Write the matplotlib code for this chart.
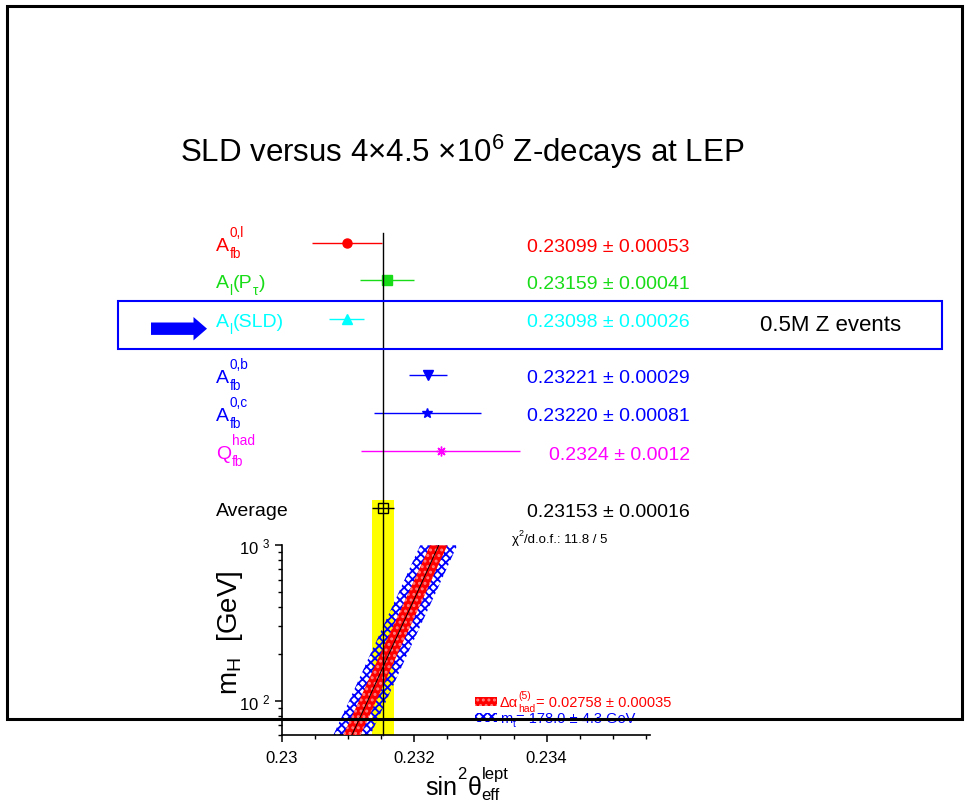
import matplotlib
matplotlib.use('Agg')
import matplotlib.pyplot as plt
import numpy as np
from matplotlib.patches import Rectangle, FancyArrow
from matplotlib.ticker import FixedLocator, MultipleLocator, LogLocator, NullFormatter, FuncFormatter

plt.rcParams['font.family'] = ['Liberation Sans', 'DejaVu Sans']
plt.rcParams['mathtext.fontset'] = 'custom'
plt.rcParams['mathtext.rm'] = 'Liberation Sans'
plt.rcParams['mathtext.it'] = 'Liberation Sans'
plt.rcParams['mathtext.bf'] = 'Liberation Sans:bold'
plt.rcParams['mathtext.sf'] = 'Liberation Sans'
plt.rcParams['mathtext.default'] = 'regular'
plt.rcParams['hatch.linewidth'] = 1.35

# ---------------- data ----------------
# labels as (text, kind) segments: '' normal, '^' superscript, '_' subscript
labels = [
    [('A', ''), ('0,l', '^'), ('fb', '_')],
    [('A', ''), ('l', '_'), ('(P', ''), ('τ', '_'), (')', '')],
    [('A', ''), ('l', '_'), ('(SLD)', '')],
    [('A', ''), ('0,b', '^'), ('fb', '_')],
    [('A', ''), ('0,c', '^'), ('fb', '_')],
    [('Q', ''), ('had', '^'), ('fb', '_')],
]
values = [0.23099, 0.23159, 0.23098, 0.23221, 0.23220, 0.2324]
errors = [0.00053, 0.00041, 0.00026, 0.00029, 0.00081, 0.0012]
decimals = [5, 5, 5, 5, 5, 4]
avg_value = 0.23153
avg_error = 0.00016
chi2 = 11.8
ndof = 5
mh_grid = [60, 100, 200, 500, 1000]
sw_center = [0.23106, 0.23130, 0.23162, 0.23205, 0.23237]
alpha_halfwidth = 0.00013
mt_halfwidth = 0.00028
delta_alpha, delta_alpha_err = 0.02758, 0.00035
mtop, mtop_err = 178.0, 4.3
xticks = [0.23, 0.232, 0.234]
title = 'SLD versus 4×4.5 ×10$^6$ Z-decays at LEP'
sld_note = '0.5M Z events'

# ---------------- layout / style ----------------
W, H = 969, 812
ax_left_px, ax_right_px = 281.7, 650.0
ax_top_px, ax_bot_px = 546.3, 736.0
xlim = (0.23, 0.23556)
ylim = (60, 1000)
row_pos = [244, 281.3, 320, 375.7, 414, 452.3]
avg_row = 509.3
colors = ['#ff0000', '#18dc18', '#00ffff', '#0000ff', '#0000ff', '#ff00ff']
markers = ['o', 's', '^', 'v', '*', (8, 2, 0)]
msizes = [6.5, 6.7, 7.0, 7.0, 7.5, 7.0]
label_x, value_x = 216, 690
fs_row = 14

fig = plt.figure(figsize=(W / 100, H / 100), dpi=100)
fig.patch.set_facecolor('white')
renderer = fig.canvas.get_renderer()

# ---------------- bottom mH plot ----------------
ax = fig.add_axes([ax_left_px / W, 1 - ax_bot_px / H,
                   (ax_right_px - ax_left_px) / W, (ax_bot_px - ax_top_px) / H])
ax.set_zorder(1)
ax.set_xlim(xlim)
ax.set_yscale('log')
ax.set_ylim(ylim)
ax.spines[['top', 'right']].set_visible(False)
for s in ('left', 'bottom'):
    ax.spines[s].set_linewidth(1.2)

ax.axvspan(avg_value - avg_error, avg_value + avg_error, color='#ffff00', lw=0, zorder=1)
mh = np.array(mh_grid, dtype=float)
sc = np.array(sw_center)
ax.fill_betweenx(mh, sc - mt_halfwidth, sc + mt_halfwidth, facecolor='none',
                 edgecolor='#0000ff', hatch='xxxx', linewidth=0, zorder=2)
ax.fill_betweenx(mh, sc - alpha_halfwidth, sc + alpha_halfwidth, facecolor='#ff0000',
                 edgecolor='#ff8080', hatch='...', linewidth=0, zorder=3)
ax.plot(sc, mh, color='black', lw=0.7, zorder=4)

ax.xaxis.set_major_locator(FixedLocator(xticks))
ax.xaxis.set_minor_locator(MultipleLocator(0.0005))
ax.xaxis.set_major_formatter(FuncFormatter(lambda v, p: f'{v:g}'))
ax.yaxis.set_major_locator(LogLocator(base=10, numticks=10))
ax.yaxis.set_minor_locator(LogLocator(base=10, subs=np.arange(2, 10), numticks=10))
ax.yaxis.set_major_formatter(FuncFormatter(lambda v, p: '10 $^{%d}$' % round(np.log10(v))))
ax.yaxis.set_minor_formatter(NullFormatter())
ax.tick_params(axis='both', which='major', direction='out', length=5, width=1.1,
               labelsize=12, pad=3)
ax.tick_params(axis='both', which='minor', direction='out', length=3, width=1.0)
ax.tick_params(axis='x', which='major', pad=6)

# ---------------- top measurement panel ----------------
axt = fig.add_axes([ax_left_px / W, 0, (ax_right_px - ax_left_px) / W, 1])
axt.set_zorder(2)
axt.set_xlim(xlim)
axt.set_ylim(H, 0)
axt.axis('off')
axt.fill_betweenx([avg_row - 8.6, ax_top_px + 4], avg_value - avg_error,
                  avg_value + avg_error, color='#ffff00', lw=0, zorder=1)
axt.plot([avg_value, avg_value], [234, ax_bot_px], color='black', lw=1.0, zorder=5)
for v, e, y, c, m, ms in zip(values, errors, row_pos, colors, markers, msizes):
    axt.errorbar(v, y, xerr=e, fmt='none', ecolor=c, elinewidth=1.0, capsize=0, zorder=3)
    axt.plot(v, y, marker=m, color=c, mfc=c, mec=c, ms=ms, mew=1.0, ls='none', zorder=4)
axt.errorbar(avg_value, avg_row, xerr=avg_error, fmt='none', ecolor='black',
             elinewidth=1.0, capsize=0, zorder=3)
axt.plot(avg_value, avg_row, marker='s', mfc='none', mec='black', ms=6.5, mew=1.0,
         ls='none', zorder=6)

# ---------------- overlay (texts, box, arrow, frame) ----------------
ov = fig.add_axes([0, 0, 1, 1])
ov.set_zorder(3)
ov.set_xlim(0, W)
ov.set_ylim(H, 0)
ov.axis('off')


def rich(x, yb, segs, color, fs, sfs, sup_dy, sub_dy):
    """Draw ROOT-like text with stacked super/subscripts; x, yb in pixels."""
    cur = x
    i = 0
    while i < len(segs):
        txt, kind = segs[i]
        if kind not in ('^', '_'):
            t = ov.text(cur, yb, txt, color=color, fontsize=fs, ha='left', va='baseline')
            cur += t.get_window_extent(renderer=renderer).width
            i += 1
        else:
            wmax = 0
            while i < len(segs) and segs[i][1] in ('^', '_'):
                txt, kind = segs[i]
                dy = -sup_dy if kind == '^' else sub_dy
                t = ov.text(cur + 0.5, yb + dy, txt, color=color, fontsize=sfs,
                            ha='left', va='baseline')
                wmax = max(wmax, t.get_window_extent(renderer=renderer).width)
                i += 1
            cur += wmax + 1
    return cur


ov.text(462, 162, title, fontsize=22.5, ha='center', va='baseline')
for lab, v, e, d, y, c in zip(labels, values, errors, decimals, row_pos, colors):
    rich(label_x, y + 7, lab, c, fs_row, 9.8, 14, 7)
    ov.text(value_x, y + 7.5, f'{v:.{d}f} ± {e:.{d}f}', color=c, fontsize=fs_row,
            ha='right', va='baseline')
ov.text(label_x, avg_row + 7, 'Average', color='black', fontsize=fs_row, ha='left', va='baseline')
ov.text(value_x, avg_row + 7.5, f'{avg_value:.5f} ± {avg_error:.5f}', color='black',
        fontsize=fs_row, ha='right', va='baseline')
rich(511.5, 542.7, [('χ', ''), ('2', '^'), (f'/d.o.f.: {chi2:g} / {ndof}', '')],
     'black', 9.5, 6.5, 6.5, 0)

ov.add_patch(Rectangle((118.5, 301.5), 824, 48.5, fill=False, ec='#0000ff', lw=1.5))
ov.add_patch(FancyArrow(151, 329.7, 56, 0, width=12.4, head_width=23.4, head_length=13.5,
                        length_includes_head=True, color='#0000ff', lw=0))
ov.text(760, 331.5, sld_note, fontsize=16, ha='left', va='baseline')

# legend of the bands
ov.add_patch(Rectangle((475, 698.3), 22, 9, facecolor='#ff0000', edgecolor='#ff8080',
                       hatch='...', lw=0))
ov.add_patch(Rectangle((475, 714.3), 22, 9, facecolor='white', edgecolor='#0000ff',
                       hatch='xxxx', lw=0))
rich(500, 707.5, [('Δα', ''), ('(5)', '^'), ('had', '_'),
                  (f'= {delta_alpha:.5f} ± {delta_alpha_err:.5f}', '')],
     '#ff0000', 10.5, 7.5, 8.5, 4.5)
rich(500, 723.5, [('m', ''), ('t', '_'), (f'= {mtop:.1f} ± {mtop_err:.1f} GeV', '')],
     '#0000ff', 10.5, 7.5, 8.5, 4)

# axis titles
ov.text(237, 633, 'm$_H$  [GeV]', fontsize=20, rotation=90, rotation_mode='anchor',
        ha='center', va='baseline')
rich(425, 795, [('sin', ''), ('2', '^'), ('θ', ''), ('lept', '^'), ('eff', '_')],
     'black', 18, 12, 16, 5)

# slide frame
ov.add_patch(Rectangle((7, 7), 955.5, 712.5, fill=False, ec='black', lw=2.2, zorder=10))

fig.savefig('out.png', dpi=100)
